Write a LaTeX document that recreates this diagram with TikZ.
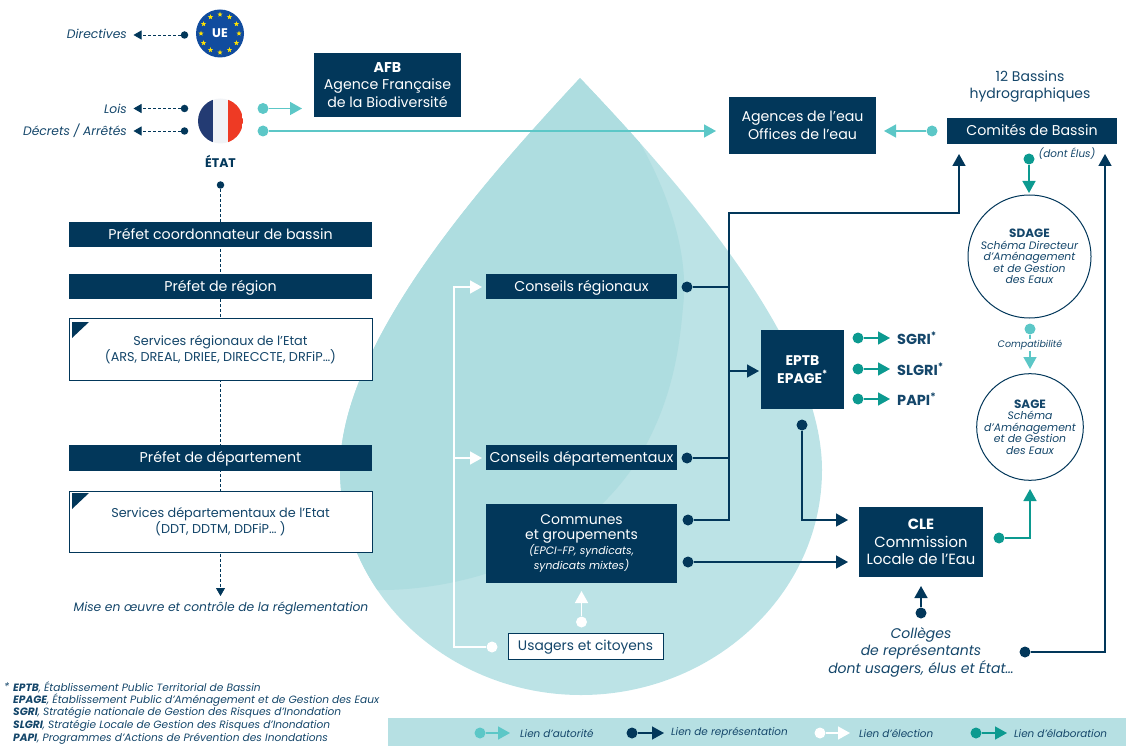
\documentclass[tikz,border=0pt]{standalone}
\usepackage{fontspec}
\setmainfont{Poppins}
\usetikzlibrary{arrows.meta,shapes.geometric,calc}
\definecolor{navy}{HTML}{02375A}
\definecolor{inkblue}{HTML}{14466A}
\definecolor{autorite}{HTML}{5CC7C7}
\definecolor{elabo}{HTML}{0C9A90}
\definecolor{droplight}{HTML}{BCE3E6}
\definecolor{dropdark}{HTML}{AEDDE0}
\definecolor{bandcol}{HTML}{B6E0E3}
\definecolor{eublue}{HTML}{114C9E}
\definecolor{frblue}{HTML}{233B73}
\definecolor{frwhite}{HTML}{F1F3F6}
\definecolor{frred}{HTML}{EE3A24}
\tikzset{
  darkbox/.style={fill=navy,text=white,inner sep=0pt,align=center,font=\fontsize{14.2}{17.5}\selectfont},
  whitebox/.style={draw=navy,fill=white,line width=.9pt,text=inkblue,inner sep=0pt,align=center,font=\fontsize{12.8}{16}\selectfont},
  oneline/.style={text height=11pt,text depth=2pt},
  txt/.style={text=inkblue,inner sep=0pt,align=center,font=\fontsize{12.3}{14}\selectfont\itshape},
  bilan/.style={text=inkblue,inner sep=0pt,anchor=west,font=\fontsize{14.5}{16}\selectfont\bfseries},
  legtxt/.style={text=inkblue,inner sep=0pt,anchor=west,font=\fontsize{10.4}{12}\selectfont\itshape},
  note/.style={text=inkblue,inner sep=0pt,anchor=west,font=\fontsize{10.6}{12}\selectfont\itshape},
  dot/.style={circle,fill=#1,inner sep=0pt,minimum size=11pt},
  smalldot/.style={circle,fill=navy,inner sep=0pt,minimum size=7.5pt},
  bulle/.style={circle,draw=navy,fill=white,line width=1pt,inner sep=0pt,align=center,text=inkblue,font=\fontsize{10.8}{11.5}\selectfont\itshape},
  lien/.style={draw=#1,line width=1.5pt,-{Triangle[length=12pt,width=13pt]},#1},
  loi/.style={draw=navy,line width=.8pt,densely dashed,-{Triangle[length=8pt,width=9pt]}},
  eustar/.style={star,star points=5,star point ratio=2.4,fill=yellow!85!orange,inner sep=0pt,minimum size=5.5pt}
}
\begin{document}
\begin{tikzpicture}[x=1pt,y=-1pt]
  \useasboundingbox (0,0) rectangle (1126,746) ;
  % goutte
  \def\dropoutline{(580,78) .. controls (490,175) and (340,340) .. (340,470)
    .. controls (340,595) and (450,695) .. (581,695)
    .. controls (712,695) and (822,595) .. (822,470)
    .. controls (822,340) and (672,175) .. (580,78) -- cycle}
  \fill[droplight] \dropoutline ;
  \begin{scope}
    \clip \dropoutline ;
    \fill[dropdark] (580,60) -- (625,118) .. controls (665,180) and (690,250) .. (683,307)
      .. controls (680,340) and (675,390) .. (647,443)
      .. controls (620,500) and (550,560) .. (463,580)
      .. controls (430,588) and (400,590) .. (383,590) -- (300,590) -- (300,60) -- cycle ;
  \end{scope}
  \fill[bandcol] (388,718) rectangle (1126,746) ;

  % UE et Etat
  \node[circle,fill=eublue,inner sep=0pt,minimum size=48pt,text=white,font=\fontsize{12.5}{13}\selectfont\bfseries] (ue) at (220,33.5) {UE} ;
  \foreach \a in {0,30,...,330}
    \node[eustar] (star\a) at ($(220,33.5)+(\a:19)$) {} ;
  \begin{scope}
    \clip (220.5,121) circle (22.5) ;
    \fill[frblue] (198,98) rectangle (213,144) ;
    \fill[frwhite] (213,98) rectangle (228,144) ;
    \fill[frred] (228,98) rectangle (243,144) ;
  \end{scope}
  \node[inner sep=0pt,minimum size=45pt,circle] (france) at (220.5,121) {} ;
  \node[text=navy,inner sep=0pt,font=\fontsize{12.5}{14}\selectfont\bfseries] (etat) at (220.5,161) {ÉTAT} ;

  \node[txt,anchor=east] (directives) at (127,34) {Directives} ;
  \node[txt,anchor=east] (lois) at (127,108.5) {Lois} ;
  \node[txt,anchor=east] (decrets) at (127,131) {Décrets / Arrêtés} ;
  \node[smalldot] (d1) at (184.5,35) {} ;
  \node[smalldot] (d2) at (184.5,108.5) {} ;
  \node[smalldot] (d3) at (184.5,131) {} ;
  \node[smalldot] (d4) at (220.5,185) {} ;
  \coordinate (t1) at (133.5,35) ;
  \coordinate (t2) at (133.5,108.5) ;
  \coordinate (t3) at (133.5,131) ;
  \coordinate (t4) at (220.5,596) ;
  \draw[loi] (d1) -- (t1) ;
  \draw[loi] (d2) -- (t2) ;
  \draw[loi] (d3) -- (t3) ;
  \draw[loi] (d4) -- (t4) ;

  % colonne de gauche
  \node[darkbox,oneline,minimum width=303pt,minimum height=25pt] (coord) at (220.5,234.5) {Préfet coordonnateur de bassin} ;
  \node[darkbox,oneline,minimum width=303pt,minimum height=25pt] (region) at (220.5,286.5) {Préfet de région} ;
  \node[whitebox,minimum width=303pt,minimum height=62pt] (servreg) at (220.5,349.5) {Services régionaux de l’Etat\\(ARS, DREAL, DRIEE, DIRECCTE, DRFiP…)} ;
  \node[darkbox,oneline,minimum width=303pt,minimum height=26pt] (dept) at (220.5,458) {Préfet de département} ;
  \node[whitebox,minimum width=303pt,minimum height=61pt] (servdep) at (220.5,521.5) {Services départementaux de l’Etat\\(DDT, DDTM, DDFiP… )} ;
  \fill[navy] (72,322) -- (89,322) -- (72,338) -- cycle ;
  \fill[navy] (72,493) -- (89,493) -- (72,509) -- cycle ;
  \node[txt] (mise) at (221,608) {Mise en œuvre et contrôle de la réglementation} ;

  % boites du haut
  \node[darkbox,minimum width=147pt,minimum height=64pt] (afb) at (387.5,85) {\textbf{AFB}\\Agence Française\\de la Biodiversité} ;
  \node[darkbox,minimum width=147pt,minimum height=57pt] (agences) at (802.5,125.5) {Agences de l’eau\\Offices de l’eau} ;
  \node[darkbox,oneline,minimum width=170pt,minimum height=26pt] (comites) at (1032,131) {Comités de Bassin} ;
  \node[text=inkblue,inner sep=0pt,align=center,font=\fontsize{14}{17.5}\selectfont] (bassins) at (1030,86.5) {12 Bassins\\hydrographiques} ;
  \node[txt,font=\fontsize{10.4}{12}\selectfont\itshape] (elus) at (1067,154) {(dont Élus)} ;

  % centre
  \node[darkbox,oneline,minimum width=191pt,minimum height=25pt] (creg) at (581.5,286.5) {Conseils régionaux} ;
  \node[darkbox,oneline,minimum width=191pt,minimum height=25pt] (cdep) at (581.5,457.5) {Conseils départementaux} ;
  \node[darkbox,minimum width=191pt,minimum height=79pt,font=\fontsize{14}{14.5}\selectfont] (communes) at (581.5,543.5) {Communes\\et groupements\\[1pt]{\fontsize{10.8}{11.5}\selectfont\itshape (EPCI-FP, syndicats,}\\{\fontsize{10.8}{11.5}\selectfont\itshape syndicats mixtes)}} ;
  \node[whitebox,oneline,minimum width=155pt,minimum height=26pt,font=\fontsize{13.8}{15}\selectfont] (usagers) at (585.5,646) {Usagers et citoyens} ;
  \node[darkbox,minimum width=83pt,minimum height=79pt,font=\fontsize{14}{17.5}\selectfont\bfseries] (eptb) at (802.5,369.5) {EPTB\\EPAGE\textsuperscript{*}} ;
  \node[darkbox,minimum width=124pt,minimum height=70pt,font=\fontsize{14.8}{17.5}\selectfont] (cle) at (921,542) {\textbf{CLE}\\Commission\\Locale de l’Eau} ;
  \node[txt,font=\fontsize{14}{17.5}\selectfont\itshape] (colleges) at (921,652) {Collèges\\de représentants\\dont usagers, élus et État…} ;

  % cercles
  \node[bulle,minimum size=123pt] (sdage) at (1029.5,256.5) {{\fontsize{12}{11.5}\selectfont\bfseries\upshape SDAGE}\\Schéma Directeur\\d’Aménagement\\et de Gestion\\des Eaux} ;
  \node[bulle,minimum size=105pt] (sage) at (1030,427) {{\fontsize{12}{11.5}\selectfont\bfseries\upshape SAGE}\\Schéma\\d’Aménagement\\et de Gestion\\des Eaux} ;

  \node[bilan] (sgri) at (897,338) {SGRI\textsuperscript{*}} ;
  \node[bilan] (slgri) at (897,369) {SLGRI\textsuperscript{*}} ;
  \node[bilan] (papi) at (897,399) {PAPI\textsuperscript{*}} ;

  % liens d'autorite
  \node[dot=autorite] (a1) at (263,108.5) {} ;
  \node[dot=autorite] (a2) at (263,131) {} ;
  \node[dot=autorite] (a3) at (932,131) {} ;
  \node[dot=autorite] (a4) at (1030,329) {} ;
  \coordinate (ta1) at (302,108.5) ;
  \coordinate (ta2) at (716,131) ;
  \coordinate (ta3) at (884,131) ;
  \coordinate (ta4) at (1030,369) ;
  \draw[lien=autorite] (a1) -- (ta1) ;
  \draw[lien=autorite] (a2) -- (ta2) ;
  \draw[lien=autorite] (a3) -- (ta3) ;
  \draw[lien=autorite] (a4) -- (ta4) ;
  \node[txt,fill=white,font=\fontsize{9.5}{10}\selectfont\itshape,inner ysep=1pt] (compat) at (1030,345) {Compatibilité} ;

  % liens de representation
  \node[dot=navy] (r1) at (687,287) {} ;
  \node[dot=navy] (r2) at (687,458) {} ;
  \node[dot=navy] (r3) at (688,520) {} ;
  \node[dot=navy] (r4) at (688,562) {} ;
  \node[dot=navy] (r5) at (802,425) {} ;
  \node[dot=navy] (r6) at (921,613) {} ;
  \node[dot=navy] (r7) at (1025,652) {} ;
  \coordinate (v1) at (729,213) ;
  \coordinate (v2) at (729,520) ;
  \coordinate (h1) at (729,287) ;
  \coordinate (h2) at (729,458) ;
  \coordinate (h3) at (729,371) ;
  \coordinate (tr1) at (959,154) ;
  \coordinate (tr2) at (759,371) ;
  \coordinate (tr3) at (848,562) ;
  \coordinate (tr4) at (848,520) ;
  \coordinate (tr5) at (921,586) ;
  \coordinate (tr6) at (1105,154) ;
  \draw[lien=navy] (r3) -- (v2) -- (v1) -| (tr1) ;
  \draw[draw=navy,line width=1.5pt] (r1) -- (h1) ;
  \draw[draw=navy,line width=1.5pt] (r2) -- (h2) ;
  \draw[lien=navy] (h3) -- (tr2) ;
  \draw[lien=navy] (r4) -- (tr3) ;
  \draw[lien=navy] (r5) |- (tr4) ;
  \draw[lien=navy] (r6) -- (tr5) ;
  \draw[lien=navy] (r7) -| (tr6) ;

  % liens d'election
  \node[dot=white] (e1) at (492,647) {} ;
  \node[dot=white] (e2) at (581.5,622) {} ;
  \coordinate (k1) at (454,647) ;
  \coordinate (k2) at (454,287) ;
  \coordinate (k3) at (454,458) ;
  \coordinate (te1) at (482,287) ;
  \coordinate (te2) at (482,458) ;
  \coordinate (te3) at (581.5,591) ;
  \draw[lien=white] (e1) -- (k1) -- (k2) -- (te1) ;
  \draw[lien=white] (k3) -- (te2) ;
  \draw[lien=white] (e2) -- (te3) ;

  % liens d'elaboration
  \node[dot=elabo] (b1) at (1029,159) {} ;
  \node[dot=elabo] (b2) at (999,538) {} ;
  \node[dot=elabo] (b3) at (858,338) {} ;
  \node[dot=elabo] (b4) at (858,369) {} ;
  \node[dot=elabo] (b5) at (858,399) {} ;
  \coordinate (tb1) at (1029,193) ;
  \coordinate (tb2) at (1030,489) ;
  \coordinate (tb3) at (890,338) ;
  \coordinate (tb4) at (890,369) ;
  \coordinate (tb5) at (890,399) ;
  \draw[lien=elabo] (b1) -- (tb1) ;
  \draw[lien=elabo] (b2) -| (tb2) ;
  \draw[lien=elabo] (b3) -- (tb3) ;
  \draw[lien=elabo] (b4) -- (tb4) ;
  \draw[lien=elabo] (b5) -- (tb5) ;

  % legende
  \node[dot=autorite] (l1) at (480,733) {} ;
  \node[dot=navy] (l2) at (632,733) {} ;
  \node[dot=white] (l3) at (820,733) {} ;
  \node[dot=elabo] (l4) at (976,733) {} ;
  \coordinate (tl1) at (510,733) ;
  \coordinate (tl2) at (664,733) ;
  \coordinate (tl3) at (850,733) ;
  \coordinate (tl4) at (1007,733) ;
  \draw[lien=autorite] (l1) -- (tl1) ;
  \draw[lien=navy] (l2) -- (tl2) ;
  \draw[lien=white] (l3) -- (tl3) ;
  \draw[lien=elabo] (l4) -- (tl4) ;
  \node[legtxt] (tx1) at (520,733) {Lien d’autorité} ;
  \node[legtxt] (tx2) at (671,733) {Lien de représentation} ;
  \node[legtxt] (tx3) at (859,733) {Lien d’élection} ;
  \node[legtxt] (tx4) at (1014,733) {Lien d’élaboration} ;

  % notes
  \node[note] (n0) at (4,687) {*} ;
  \node[note] (n1) at (13,687) {\textbf{EPTB}, Établissement Public Territorial de Bassin} ;
  \node[note] (n2) at (13,700) {\textbf{EPAGE}, Établissement Public d’Aménagement et de Gestion des Eaux} ;
  \node[note] (n3) at (13,713) {\textbf{SGRI}, Stratégie nationale de Gestion des Risques d’Inondation} ;
  \node[note] (n4) at (13,726) {\textbf{SLGRI}, Stratégie Locale de Gestion des Risques d’Inondation} ;
  \node[note] (n5) at (13,739) {\textbf{PAPI}, Programmes d’Actions de Prévention des Inondations} ;
\end{tikzpicture}
\end{document}
